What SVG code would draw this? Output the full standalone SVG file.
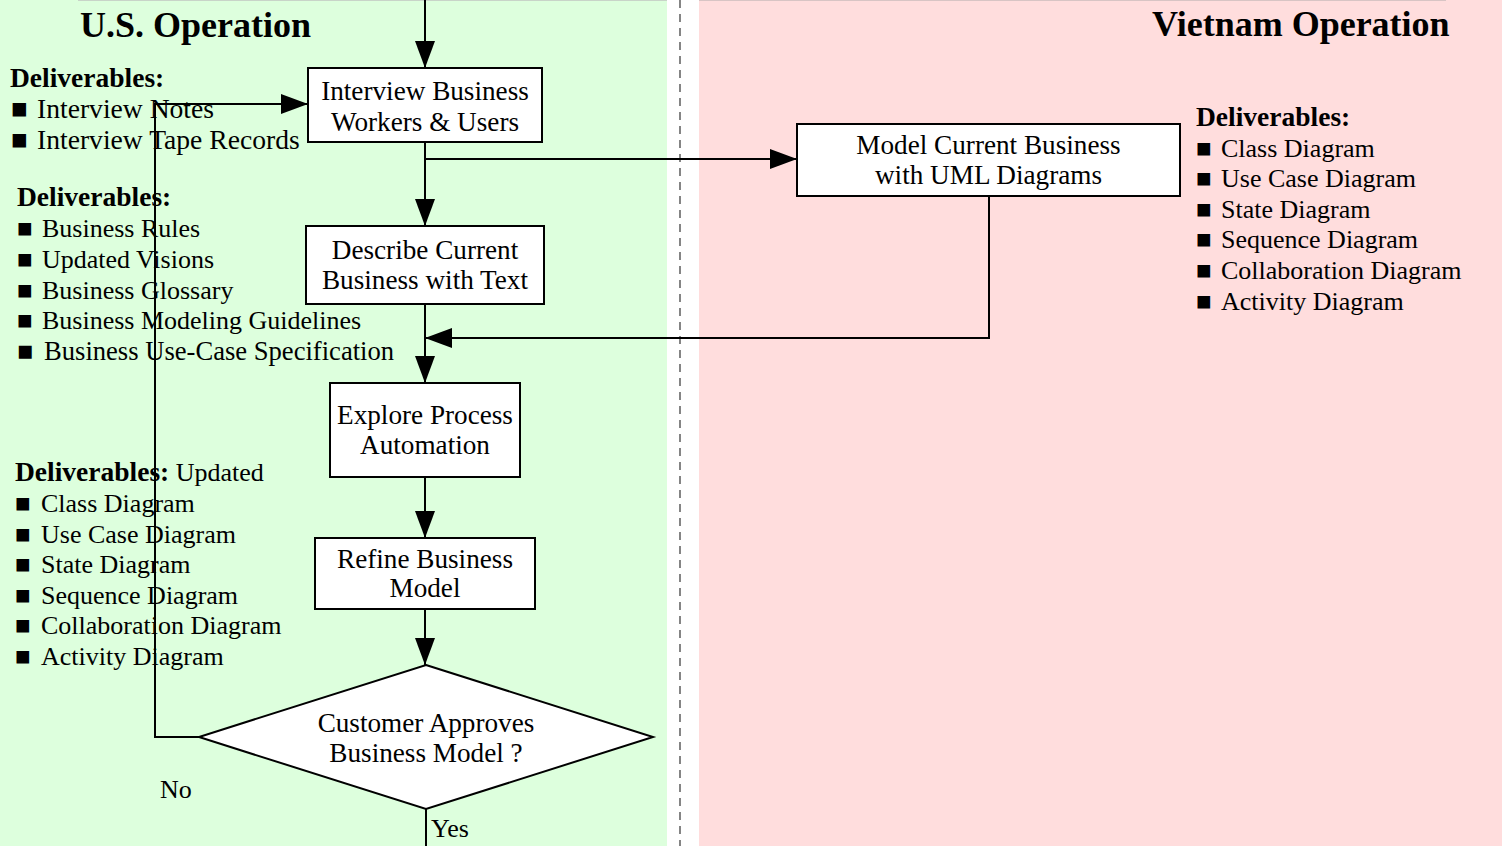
<svg xmlns="http://www.w3.org/2000/svg" width="1502" height="846" viewBox="0 0 1502 846">
<style>
text{font-family:"Liberation Serif","Times New Roman",serif;fill:#000}
.t{font-size:26px}
.t2{font-size:27.6px}
.c{font-size:27.2px;text-anchor:middle}
.h{font-size:27.5px;font-weight:bold}
.title{font-size:36px;font-weight:bold}
.box{fill:#fff;stroke:#000;stroke-width:2}
.ln{fill:none;stroke:#000;stroke-width:2}
.ar{marker-end:url(#ah)}
</style>
<defs>
<marker id="ah" markerUnits="userSpaceOnUse" markerWidth="28" markerHeight="20" refX="27" refY="10" orient="auto" viewBox="0 0 28 20">
<path d="M0,0 L27,10 L0,20 z" fill="#000"/>
</marker>
</defs>
<g id="background">
<rect x="0" y="0" width="667" height="846" fill="#ddffdd"/>
<rect x="699" y="0" width="803" height="846" fill="#ffdddd"/>
<line x1="78" y1="0.5" x2="667" y2="0.5" stroke="#c8d4c8" stroke-width="1"/>
<line x1="699" y1="0.5" x2="1446" y2="0.5" stroke="#d8c4c4" stroke-width="1"/>
<line x1="680" y1="0" x2="680" y2="846" stroke="#444" stroke-width="1.3" stroke-dasharray="8,6"/>
</g>
<g id="titles">
<text class="title" x="80" y="37">U.S. Operation</text>
<text class="title" x="1152" y="36">Vietnam Operation</text>
</g>
<g id="connectors">
<line class="ln ar" x1="425" y1="0" x2="425" y2="68"/>
<line class="ln ar" x1="425" y1="142" x2="425" y2="226"/>
<polyline class="ln ar" points="425,159 797,159"/>
<polyline class="ln ar" points="989,196 989,338 425,338"/>
<line class="ln ar" x1="425" y1="304" x2="425" y2="383"/>
<line class="ln ar" x1="425" y1="477" x2="425" y2="538"/>
<line class="ln ar" x1="425" y1="609" x2="425" y2="665"/>
<polyline class="ln ar" points="199,737 155,737 155,104 308,104"/>
<line class="ln" x1="426" y1="809" x2="426" y2="846"/>
</g>
<g id="deliv-interview">
<text class="h" x="10" y="87">Deliverables:</text>
<text class="t2" y="118"><tspan x="11">■</tspan><tspan x="37">Interview Notes</tspan></text>
<text class="t2" y="149"><tspan x="11">■</tspan><tspan x="37">Interview Tape Records</tspan></text>
</g>
<g id="deliv-describe">
<text class="h" x="17" y="206">Deliverables:</text>
<text class="t" y="237"><tspan x="17">■</tspan><tspan x="42">Business Rules</tspan></text>
<text class="t" y="268"><tspan x="17">■</tspan><tspan x="42">Updated Visions</tspan></text>
<text class="t" y="299"><tspan x="17">■</tspan><tspan x="42">Business Glossary</tspan></text>
<text class="t" y="329"><tspan x="17">■</tspan><tspan x="42">Business Modeling Guidelines</tspan></text>
<text class="t" y="360" style="font-size:26.6px"><tspan x="17">■</tspan><tspan x="44">Business Use-Case Specification</tspan></text>
</g>
<g id="deliv-refine">
<text x="15" y="481"><tspan class="h">Deliverables:</tspan><tspan class="t"> Updated</tspan></text>
<text class="t" y="512"><tspan x="15">■</tspan><tspan x="41">Class Diagram</tspan></text>
<text class="t" y="543"><tspan x="15">■</tspan><tspan x="41">Use Case Diagram</tspan></text>
<text class="t" y="573"><tspan x="15">■</tspan><tspan x="41">State Diagram</tspan></text>
<text class="t" y="604"><tspan x="15">■</tspan><tspan x="41">Sequence Diagram</tspan></text>
<text class="t" y="634"><tspan x="15">■</tspan><tspan x="41">Collaboration Diagram</tspan></text>
<text class="t" y="665"><tspan x="15">■</tspan><tspan x="41">Activity Diagram</tspan></text>
</g>
<g id="deliv-vietnam">
<text class="h" x="1196" y="126">Deliverables:</text>
<text class="t" y="157"><tspan x="1196">■</tspan><tspan x="1221">Class Diagram</tspan></text>
<text class="t" y="187"><tspan x="1196">■</tspan><tspan x="1221">Use Case Diagram</tspan></text>
<text class="t" y="218"><tspan x="1196">■</tspan><tspan x="1221">State Diagram</tspan></text>
<text class="t" y="248"><tspan x="1196">■</tspan><tspan x="1221">Sequence Diagram</tspan></text>
<text class="t" y="279"><tspan x="1196">■</tspan><tspan x="1221">Collaboration Diagram</tspan></text>
<text class="t" y="310"><tspan x="1196">■</tspan><tspan x="1221">Activity Diagram</tspan></text>
</g>
<g id="interview">
<rect class="box" x="308" y="68" width="234" height="74"/>
<text class="c" x="425" y="100">Interview Business</text>
<text class="c" x="425" y="131">Workers &amp; Users</text>
</g>
<g id="describe">
<rect class="box" x="306" y="226" width="238" height="78"/>
<text class="c" x="425" y="259">Describe Current</text>
<text class="c" x="425" y="289">Business with Text</text>
</g>
<g id="model-uml">
<rect class="box" x="797" y="124" width="383" height="72"/>
<text class="c" x="988.5" y="154">Model Current Business</text>
<text class="c" x="988.5" y="184">with UML Diagrams</text>
</g>
<g id="explore">
<rect class="box" x="330" y="383" width="190" height="94"/>
<text class="c" x="425" y="424">Explore Process</text>
<text class="c" x="425" y="454">Automation</text>
</g>
<g id="refine">
<rect class="box" x="315" y="538" width="220" height="71"/>
<text class="c" x="425" y="568">Refine Business</text>
<text class="c" x="425" y="597">Model</text>
</g>
<g id="decision">
<polygon class="box" points="426,665 653,737 426,809 199,737"/>
<text class="c" x="426" y="732">Customer Approves</text>
<text class="c" x="426" y="762">Business Model ?</text>
</g>
<g id="labels">
<text class="t" x="160" y="798">No</text>
<text class="t" x="431" y="837">Yes</text>
</g>
</svg>
